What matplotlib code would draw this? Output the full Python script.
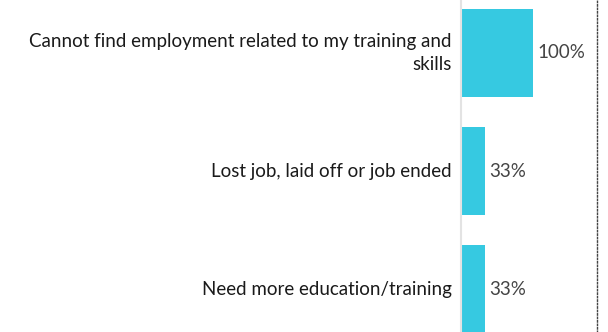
import matplotlib.pyplot as plt

categories = [
    "Cannot find employment related to my training and\nskills",
    "Lost job, laid off or job ended",
    "Need more education/training",
]
shares = [1.00, 0.33, 0.33]
value_labels = ["100%", "33%", "33%"]

plt.rcParams['font.family'] = ['Lato', 'DejaVu Sans']

fig = plt.figure(figsize=(6.08, 3.32), dpi=100)
ax = fig.add_axes([461 / 608, 0, (597 - 461) / 608, 1])

pos = list(range(len(categories)))
ax.barh(pos, shares, height=0.746, color='#36C9E1')

ax.set_xlim(0, (597 - 461) / 72)
ax.set_ylim(2.364, -0.449)

for p, v, lab in zip(pos, shares, value_labels):
    ax.text(v + 0.055, p, lab, va='center', ha='left', fontsize=13.5, color='#444444')

for p, cat in zip(pos, categories):
    ax.text(-0.13, p, cat, va='center', ha='right', fontsize=13.5,
            color='#1a1a1a', multialignment='right', linespacing=1.42,
            transform=ax.transData)

ax.set_xticks([])
ax.set_yticks([])
for s in ['top', 'bottom']:
    ax.spines[s].set_visible(False)
ax.spines['left'].set_color('#e3e3e3')
ax.spines['left'].set_linewidth(1.5)
ax.spines['right'].set_color('#444444')
ax.spines['right'].set_linestyle((0, (1, 1.5)))
ax.spines['right'].set_linewidth(1)

fig.savefig('out.png', dpi=100)
